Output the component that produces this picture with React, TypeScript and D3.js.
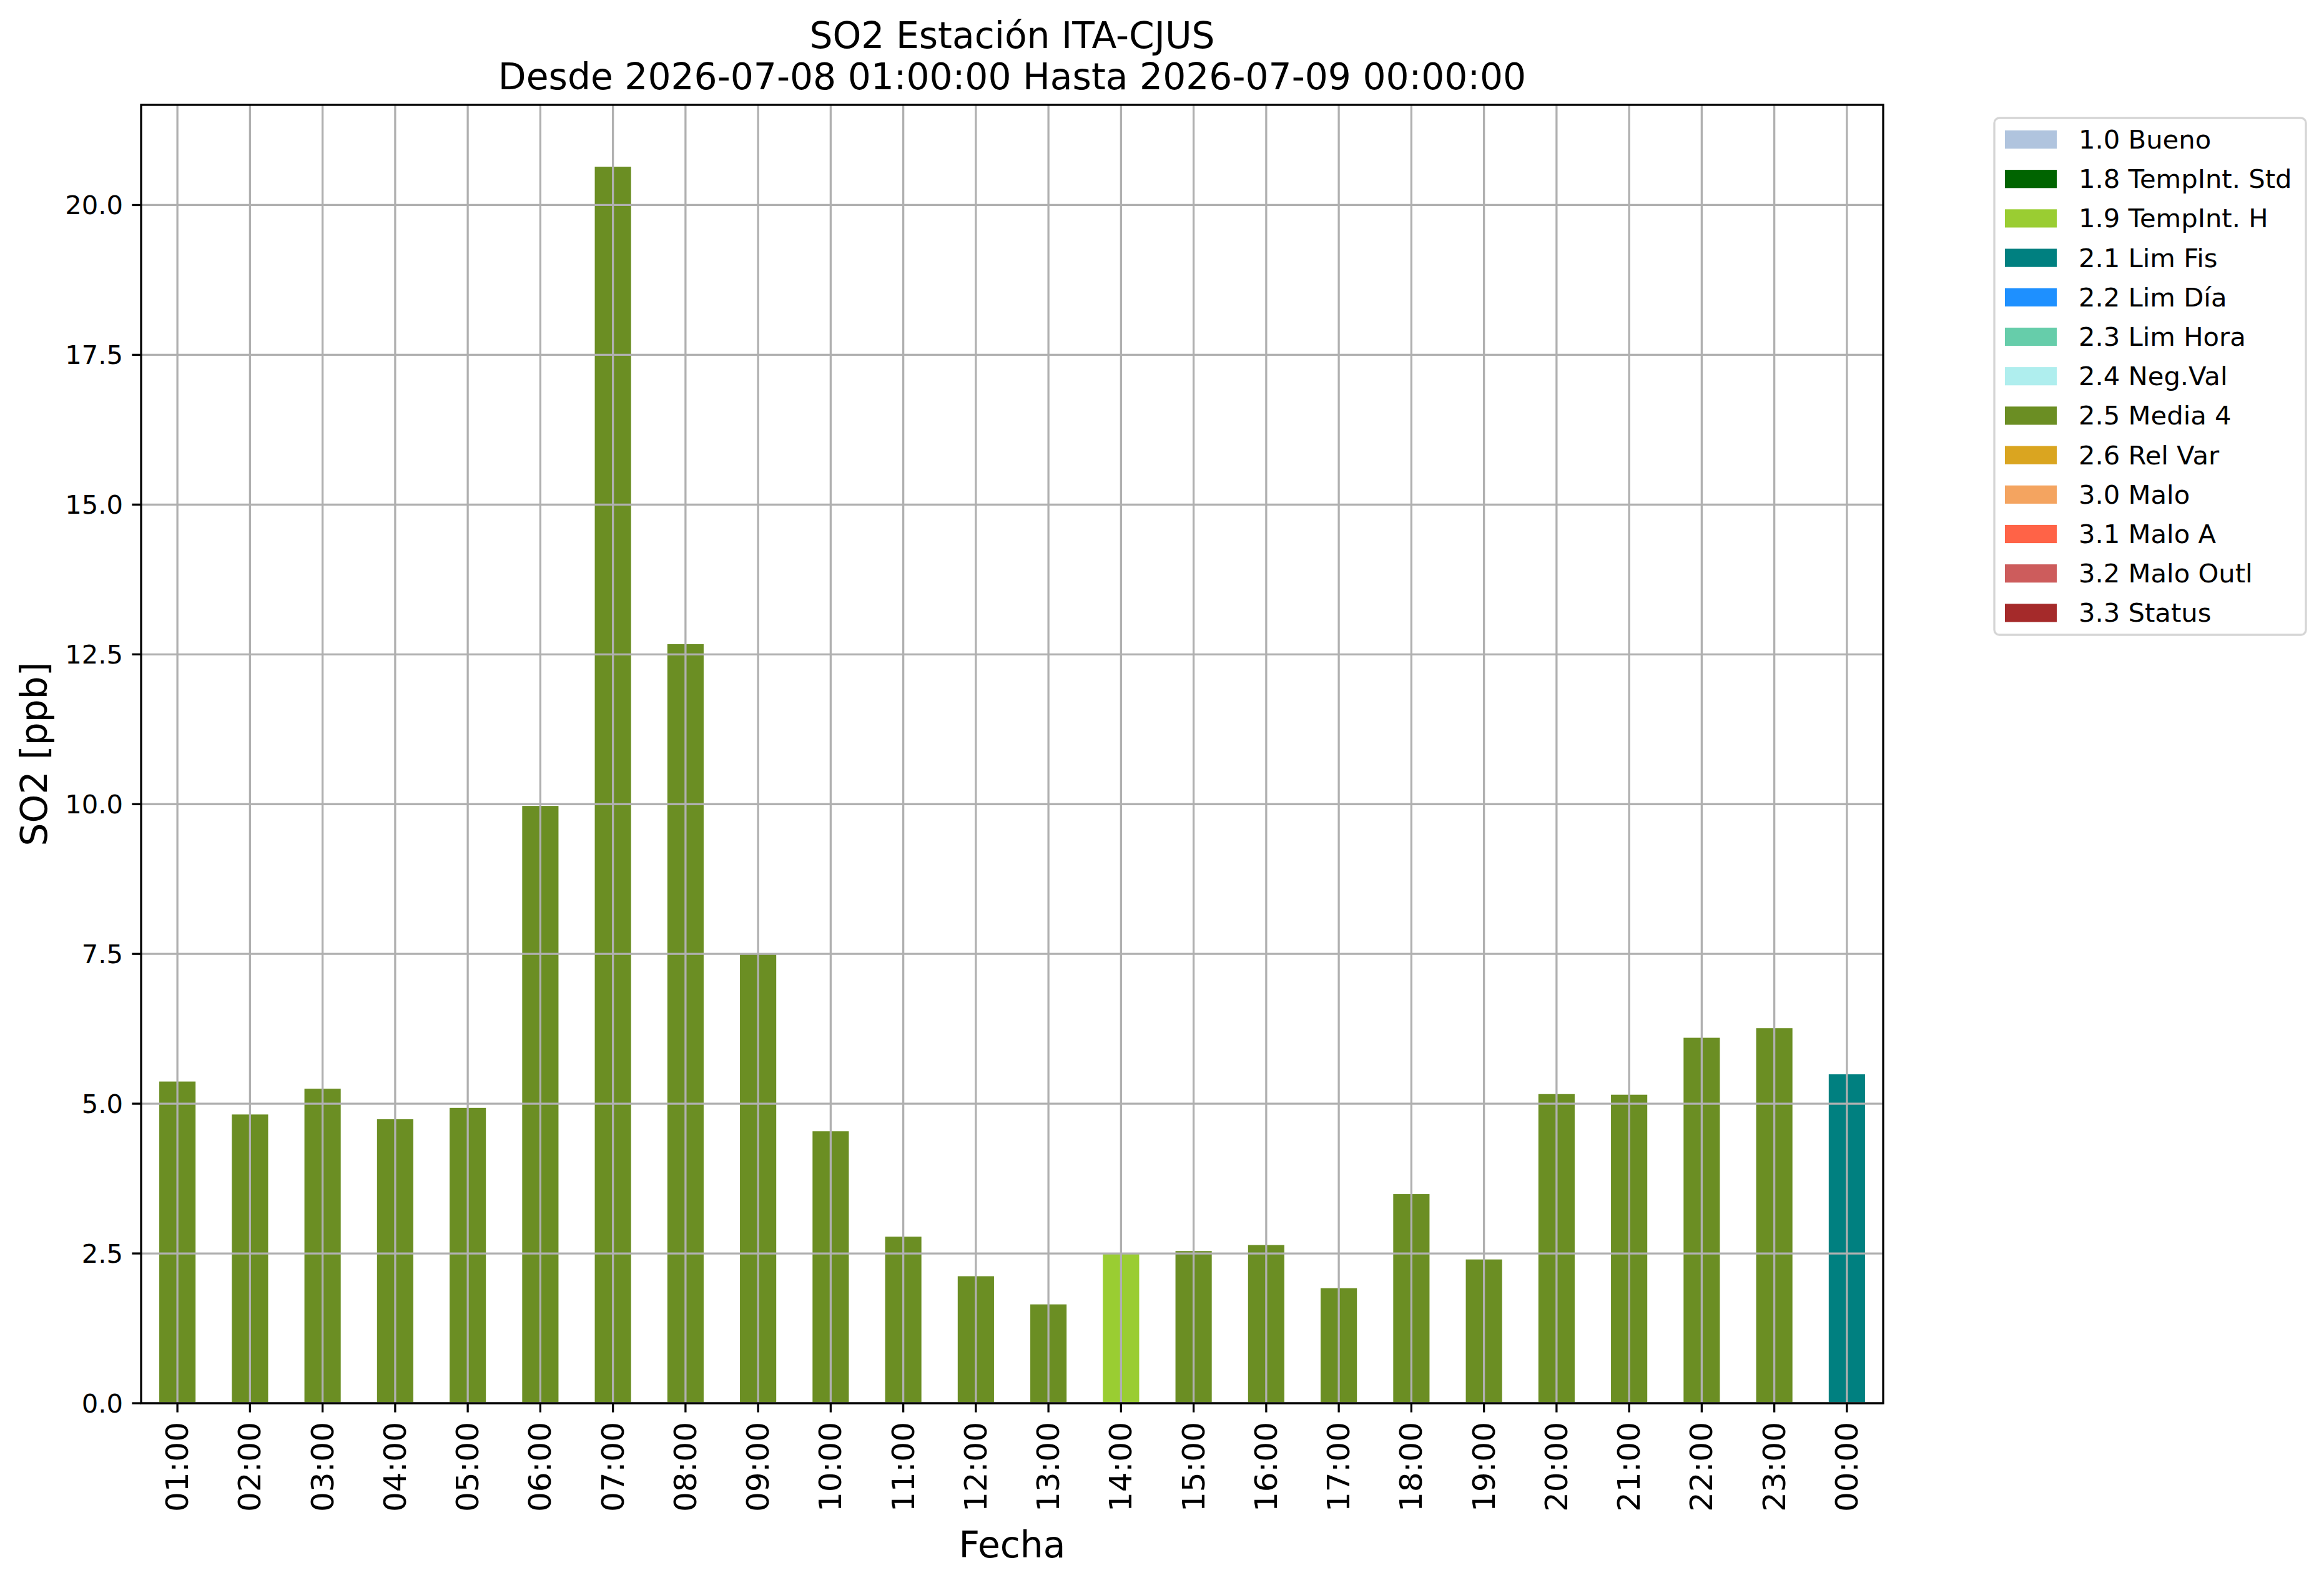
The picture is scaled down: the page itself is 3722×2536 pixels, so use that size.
import React from "react";
import * as d3 from "d3";

const hours = ["01:00","02:00","03:00","04:00","05:00","06:00","07:00","08:00","09:00","10:00","11:00","12:00","13:00","14:00","15:00","16:00","17:00","18:00","19:00","20:00","21:00","22:00","23:00","00:00"];
const so2Values = [5.37,4.82,5.25,4.74,4.93,9.97,20.64,12.67,7.49,4.54,2.78,2.12,1.65,2.49,2.54,2.64,1.92,3.49,2.40,5.16,5.15,6.10,6.26,5.49];
const flagCodes = ["2.5","2.5","2.5","2.5","2.5","2.5","2.5","2.5","2.5","2.5","2.5","2.5","2.5","1.9","2.5","2.5","2.5","2.5","2.5","2.5","2.5","2.5","2.5","2.1"];
const legendCodes = ["1.0","1.8","1.9","2.1","2.2","2.3","2.4","2.5","2.6","3.0","3.1","3.2","3.3"];
const legendNames = ["Bueno","TempInt. Std","TempInt. H","Lim Fis","Lim Día","Lim Hora","Neg.Val","Media 4","Rel Var","Malo","Malo A","Malo Outl","Status"];
const legendColors = ["#B0C4DE","#006400","#9ACD32","#008080","#1E90FF","#66CDAA","#AFEEEE","#6B8E23","#DAA520","#F4A460","#FF6347","#CD5C5C","#A52A2A"];
const yTicks = [0,2.5,5,7.5,10,12.5,15,17.5,20];
const titleLines = ["SO2 Estación ITA-CJUS","Desde 2026-07-08 01:00:00 Hasta 2026-07-09 00:00:00"];

const W = 3722, H = 2536;
const L = 226, R = 3016, T = 168, B = 2248;
const FONT = "DejaVu Sans";

export default function App() {
  const x = d3.scaleBand<string>().domain(hours).range([L, R]).paddingInner(0.5).paddingOuter(0.25);
  const yMax = (d3.max(so2Values) as number) * 1.05;
  const y = d3.scaleLinear().domain([0, yMax]).range([B, T]);
  const color = d3.scaleOrdinal<string, string>().domain(legendCodes).range(legendColors);
  const fmt = d3.format(".1f");
  const cx = (h: string) => (x(h) as number) + x.bandwidth() / 2;

  const legX = 3194, legY = 189, legW = 499, legH = 828;
  const rowH = 63.2;

  return (
    <svg width={W} height={H} style={{ position: "absolute", left: 0, top: 0, background: "#fff" }} fontFamily={FONT}>
      <rect x={0} y={0} width={W} height={H} fill="#fff" />
      {/* bars */}
      {hours.map((h, i) => (
        <rect key={h} x={x(h)} y={y(so2Values[i])} width={x.bandwidth()} height={B - y(so2Values[i])} fill={color(flagCodes[i])} />
      ))}
      {/* grid */}
      {hours.map((h) => (
        <line key={"gx" + h} x1={cx(h)} x2={cx(h)} y1={T} y2={B} stroke="#b0b0b0" strokeWidth={3.3} />
      ))}
      {yTicks.map((t) => (
        <line key={"gy" + t} x1={L} x2={R} y1={y(t)} y2={y(t)} stroke="#b0b0b0" strokeWidth={3.3} />
      ))}
      {/* frame */}
      <rect x={L} y={T} width={R - L} height={B - T} fill="none" stroke="#000" strokeWidth={3.3} />
      {/* y ticks */}
      {yTicks.map((t) => (
        <g key={"yt" + t}>
          <line x1={L - 14.6} x2={L} y1={y(t)} y2={y(t)} stroke="#000" strokeWidth={3.3} />
          <text x={L - 29} y={y(t)} textAnchor="end" dominantBaseline="central" fontSize={41.7}>{fmt(t)}</text>
        </g>
      ))}
      {/* x ticks */}
      {hours.map((h) => (
        <g key={"xt" + h}>
          <line x1={cx(h)} x2={cx(h)} y1={B} y2={B + 14.6} stroke="#000" strokeWidth={3.3} />
          <text transform={`translate(${cx(h)},${B + 30}) rotate(-90)`} textAnchor="end" dominantBaseline="central" fontSize={50}>{h}</text>
        </g>
      ))}
      {/* axis labels */}
      <text x={(L + R) / 2} y={2495} textAnchor="middle" fontSize={58.3}>Fecha</text>
      <text transform={`translate(75,${(T + B) / 2}) rotate(-90)`} textAnchor="middle" fontSize={58.3}>SO2 [ppb]</text>
      {/* title */}
      <text x={(L + R) / 2} y={77} textAnchor="middle" fontSize={58.3}>{titleLines[0]}</text>
      <text x={(L + R) / 2} y={143} textAnchor="middle" fontSize={58.3}>{titleLines[1]}</text>
      {/* legend */}
      <rect x={legX} y={legY} width={legW} height={legH} rx={8} ry={8} fill="#fff" fillOpacity={0.8} stroke="#d5d5d5" strokeWidth={3.3} />
      {legendCodes.map((c, i) => {
        const cy = 223.5 + i * rowH;
        return (
          <g key={"lg" + c}>
            <rect x={3211} y={cy - 14.6} width={83} height={29.2} fill={color(c)} />
            <text x={3329} y={cy} dominantBaseline="central" fontSize={41.7}>{`${c} ${legendNames[i]}`}</text>
          </g>
        );
      })}
    </svg>
  );
}
